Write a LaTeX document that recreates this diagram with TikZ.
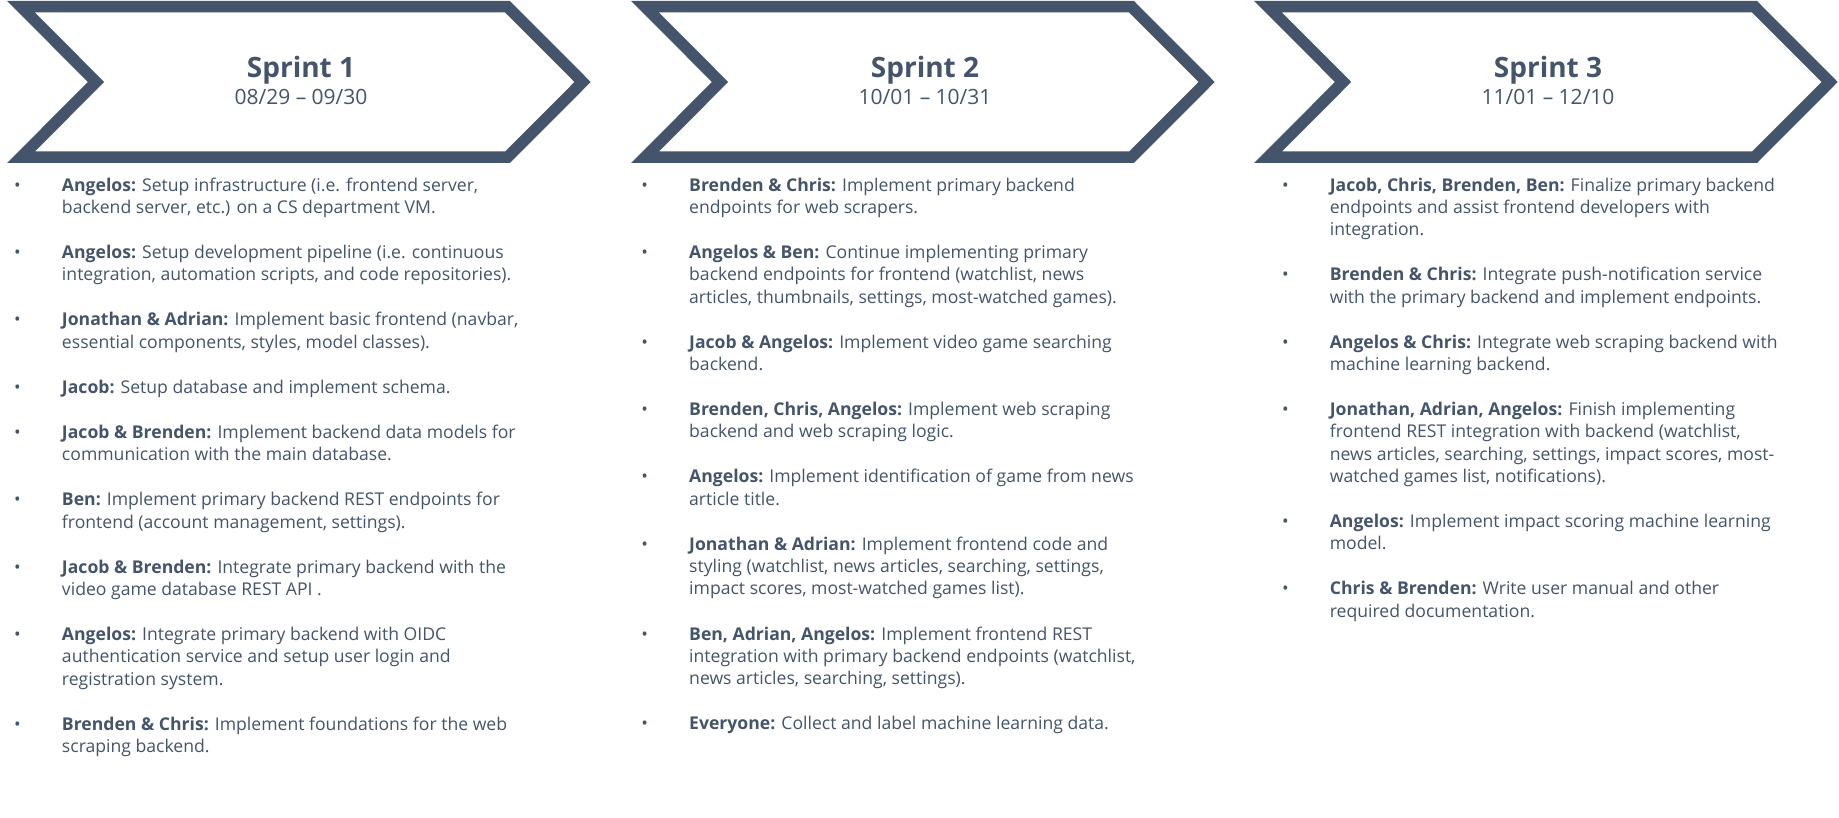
\documentclass[tikz,border=0pt]{standalone}
\usepackage{fontspec}
\setmainfont{Open Sans}
\usetikzlibrary{positioning}
\definecolor{slate}{HTML}{44546A}
\newcommand{\itm}[2]{\makebox[47.8pt][l]{\textbullet}\parbox[t]{520pt}{\raggedright\strut\textbf{#1} #2\strut}}
\tikzset{
  chev/.style={draw=slate, line width=11.5pt, line join=miter, fill=white},
  item/.style={inner sep=0pt, outer sep=0pt, text=slate, font=\fontsize{17.6}{22.3}\selectfont},
  ttl/.style={inner sep=0pt, anchor=base, text=slate, font=\fontsize{28}{30}\selectfont\bfseries},
  dat/.style={inner sep=0pt, anchor=base, text=slate, font=\fontsize{21}{24}\selectfont},
  gap/.style={below=22.8pt of #1}
}
\begin{document}
\begin{tikzpicture}[x=1pt,y=-1pt]
\useasboundingbox[fill=white] (0,0) rectangle (1839,818);
% chevrons
\draw[chev] (20.9,6.75) -- (507.6,6.75) -- (582.6,82) -- (507.6,157.25) -- (20.9,157.25) -- (96.1,82) -- cycle;
\draw[chev] (644.9,6.75) -- (1131.6,6.75) -- (1206.6,82) -- (1131.6,157.25) -- (644.9,157.25) -- (720.1,82) -- cycle;
\draw[chev] (1267.9,6.75) -- (1754.6,6.75) -- (1829.6,82) -- (1754.6,157.25) -- (1267.9,157.25) -- (1343.1,82) -- cycle;
\node[ttl] (t1) at (301,78) {Sprint 1};
\node[dat] (d1) at (301,105) {08/29 \textendash{} 09/30};
\node[ttl] (t2) at (925,78) {Sprint 2};
\node[dat] (d2) at (925,105) {10/01 \textendash{} 10/31};
\node[ttl] (t3) at (1548,78) {Sprint 3};
\node[dat] (d3) at (1548,105) {11/01 \textendash{} 12/10};
% column 1
\node[item, anchor=north west] (a1) at (14.2,175.4) {\itm{Angelos:}{Setup infrastructure (i.e. frontend server,\\ backend server, etc.) on a CS department VM.}};
\node[item, gap=a1] (a2) {\itm{Angelos:}{Setup development pipeline (i.e. continuous\\ integration, automation scripts, and code repositories).}};
\node[item, gap=a2] (a3) {\itm{Jonathan \& Adrian:}{Implement basic frontend (navbar,\\ essential components, styles, model classes).}};
\node[item, gap=a3] (a4) {\itm{Jacob:}{Setup database and implement schema.}};
\node[item, gap=a4] (a5) {\itm{Jacob \& Brenden:}{Implement backend data models for\\ communication with the main database.}};
\node[item, gap=a5] (a6) {\itm{Ben:}{Implement primary backend REST endpoints for\\ frontend (account management, settings).}};
\node[item, gap=a6] (a7) {\itm{Jacob \& Brenden:}{Integrate primary backend with the\\ video game database REST API .}};
\node[item, gap=a7] (a8) {\itm{Angelos:}{Integrate primary backend with OIDC\\ authentication service and setup user login and\\ registration system.}};
\node[item, gap=a8] (a9) {\itm{Brenden \& Chris:}{Implement foundations for the web\\ scraping backend.}};
% column 2
\node[item, anchor=north west] (b1) at (641.4,175.4) {\itm{Brenden \& Chris:}{Implement primary backend\\ endpoints for web scrapers.}};
\node[item, gap=b1] (b2) {\itm{Angelos \& Ben:}{Continue implementing primary\\ backend endpoints for frontend (watchlist, news\\ articles, thumbnails, settings, most-watched games).}};
\node[item, gap=b2] (b3) {\itm{Jacob \& Angelos:}{Implement video game searching\\ backend.}};
\node[item, gap=b3] (b4) {\itm{Brenden, Chris, Angelos:}{Implement web scraping\\ backend and web scraping logic.}};
\node[item, gap=b4] (b5) {\itm{Angelos:}{Implement identification of game from news\\ article title.}};
\node[item, gap=b5] (b6) {\itm{Jonathan \& Adrian:}{Implement frontend code and\\ styling (watchlist, news articles, searching, settings,\\ impact scores, most-watched games list).}};
\node[item, gap=b6] (b7) {\itm{Ben, Adrian, Angelos:}{Implement frontend REST\\ integration with primary backend endpoints (watchlist,\\ news articles, searching, settings).}};
\node[item, gap=b7] (b8) {\itm{Everyone:}{Collect and label machine learning data.}};
% column 3
\node[item, anchor=north west] (c1) at (1282,175.4) {\itm{Jacob, Chris, Brenden, Ben:}{Finalize primary backend\\ endpoints and assist frontend developers with\\ integration.}};
\node[item, gap=c1] (c2) {\itm{Brenden \& Chris:}{Integrate push-notification service\\ with the primary backend and implement endpoints.}};
\node[item, gap=c2] (c3) {\itm{Angelos \& Chris:}{Integrate web scraping backend with\\ machine learning backend.}};
\node[item, gap=c3] (c4) {\itm{Jonathan, Adrian, Angelos:}{Finish implementing\\ frontend REST integration with backend (watchlist,\\ news articles, searching, settings, impact scores, most-\\ watched games list, notifications).}};
\node[item, gap=c4] (c5) {\itm{Angelos:}{Implement impact scoring machine learning\\ model.}};
\node[item, gap=c5] (c6) {\itm{Chris \& Brenden:}{Write user manual and other\\ required documentation.}};
\end{tikzpicture}
\end{document}
